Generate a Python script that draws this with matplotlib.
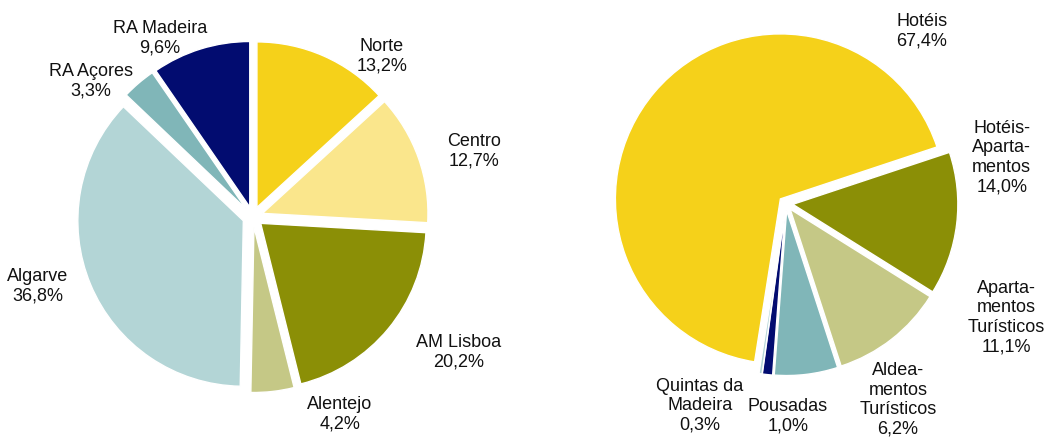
import matplotlib.pyplot as plt

plt.rcParams['font.family'] = ['Liberation Sans', 'DejaVu Sans']

# Left pie: regions
regioes = ["Norte", "Centro", "AM Lisboa", "Alentejo", "Algarve", "RA Açores", "RA Madeira"]
regioes_pct = [13.2, 12.7, 20.2, 4.2, 36.8, 3.3, 9.6]
regioes_cores = ["#F5D11A", "#FAE68C", "#8B8F06", "#C5C886", "#B3D5D6", "#80B6B8", "#020C70"]

# Right pie: type of establishment
tipos = ["Hotéis", "Hotéis-\nAparta-\nmentos", "Aparta-\nmentos\nTurísticos",
         "Aldea-\nmentos\nTurísticos", "Pousadas", "Quintas da\nMadeira"]
tipos_pct = [67.4, 14.0, 11.1, 6.2, 1.0, 0.3]
tipos_cores = ["#F5D11A", "#8B8F06", "#C5C886", "#80B6B8", "#020C70", "#B3D5D6"]

W, H = 1049, 439
fig = plt.figure(figsize=(W / 100, H / 100), dpi=100)


def pie_axes(cx, cy, r):
    # axes over the whole figure, 1 data unit = r pixels, pie centre at (cx, cy) px from top-left
    ax = fig.add_axes([0, 0, 1, 1])
    ax.set_axis_off()
    return ax, (-cx / r, (W - cx) / r), (-(H - cy) / r, cy / r)


def px(cx, cy, r, x, y):
    return (x - cx) / r, (cy - y) / r


# left
cx, cy, r = 252.8, 217.8, 165.5
ax, xl, yl = pie_axes(cx, cy, r)
ax.pie(regioes_pct, colors=regioes_cores, startangle=90, counterclock=False,
       explode=[0.062] * len(regioes_pct),
       wedgeprops=dict(edgecolor="white", linewidth=1))
ax.set_aspect("auto")
ax.set_xlim(*xl)
ax.set_ylim(*yl)
pos_esq = [(381.7, 56), (474, 151), (459, 352.5), (340, 414), (38, 286.5), (90.7, 81.5), (160, 38)]
for nome, v, (x, y) in zip(regioes, regioes_pct, pos_esq):
    tx, ty = px(cx, cy, r, x, y)
    ax.text(tx, ty, f"{nome}\n{v:.1f}%".replace(".", ","), ha="center", va="center",
            fontsize=13, color="#111111", linespacing=1.2)

# right
cx, cy, r = 785.8, 204.5, 165
ax, xl, yl = pie_axes(cx, cy, r)
ax.pie(tipos_pct, colors=tipos_cores, startangle=261, counterclock=False,
       explode=[0.043] * len(tipos_pct),
       wedgeprops=dict(edgecolor="white", linewidth=1))
ax.set_aspect("auto")
ax.set_xlim(*xl)
ax.set_ylim(*yl)
pos_dir = [(921.7, 31.7), (1001.7, 157.5), (1006.7, 317.7), (898, 400), (788, 416.7), (700, 405.7)]
for nome, v, (x, y) in zip(tipos, tipos_pct, pos_dir):
    tx, ty = px(cx, cy, r, x, y)
    ax.text(tx, ty, f"{nome}\n{v:.1f}%".replace(".", ","), ha="center", va="center",
            fontsize=13, color="#111111", linespacing=1.2)

fig.savefig("out.png", dpi=100)
